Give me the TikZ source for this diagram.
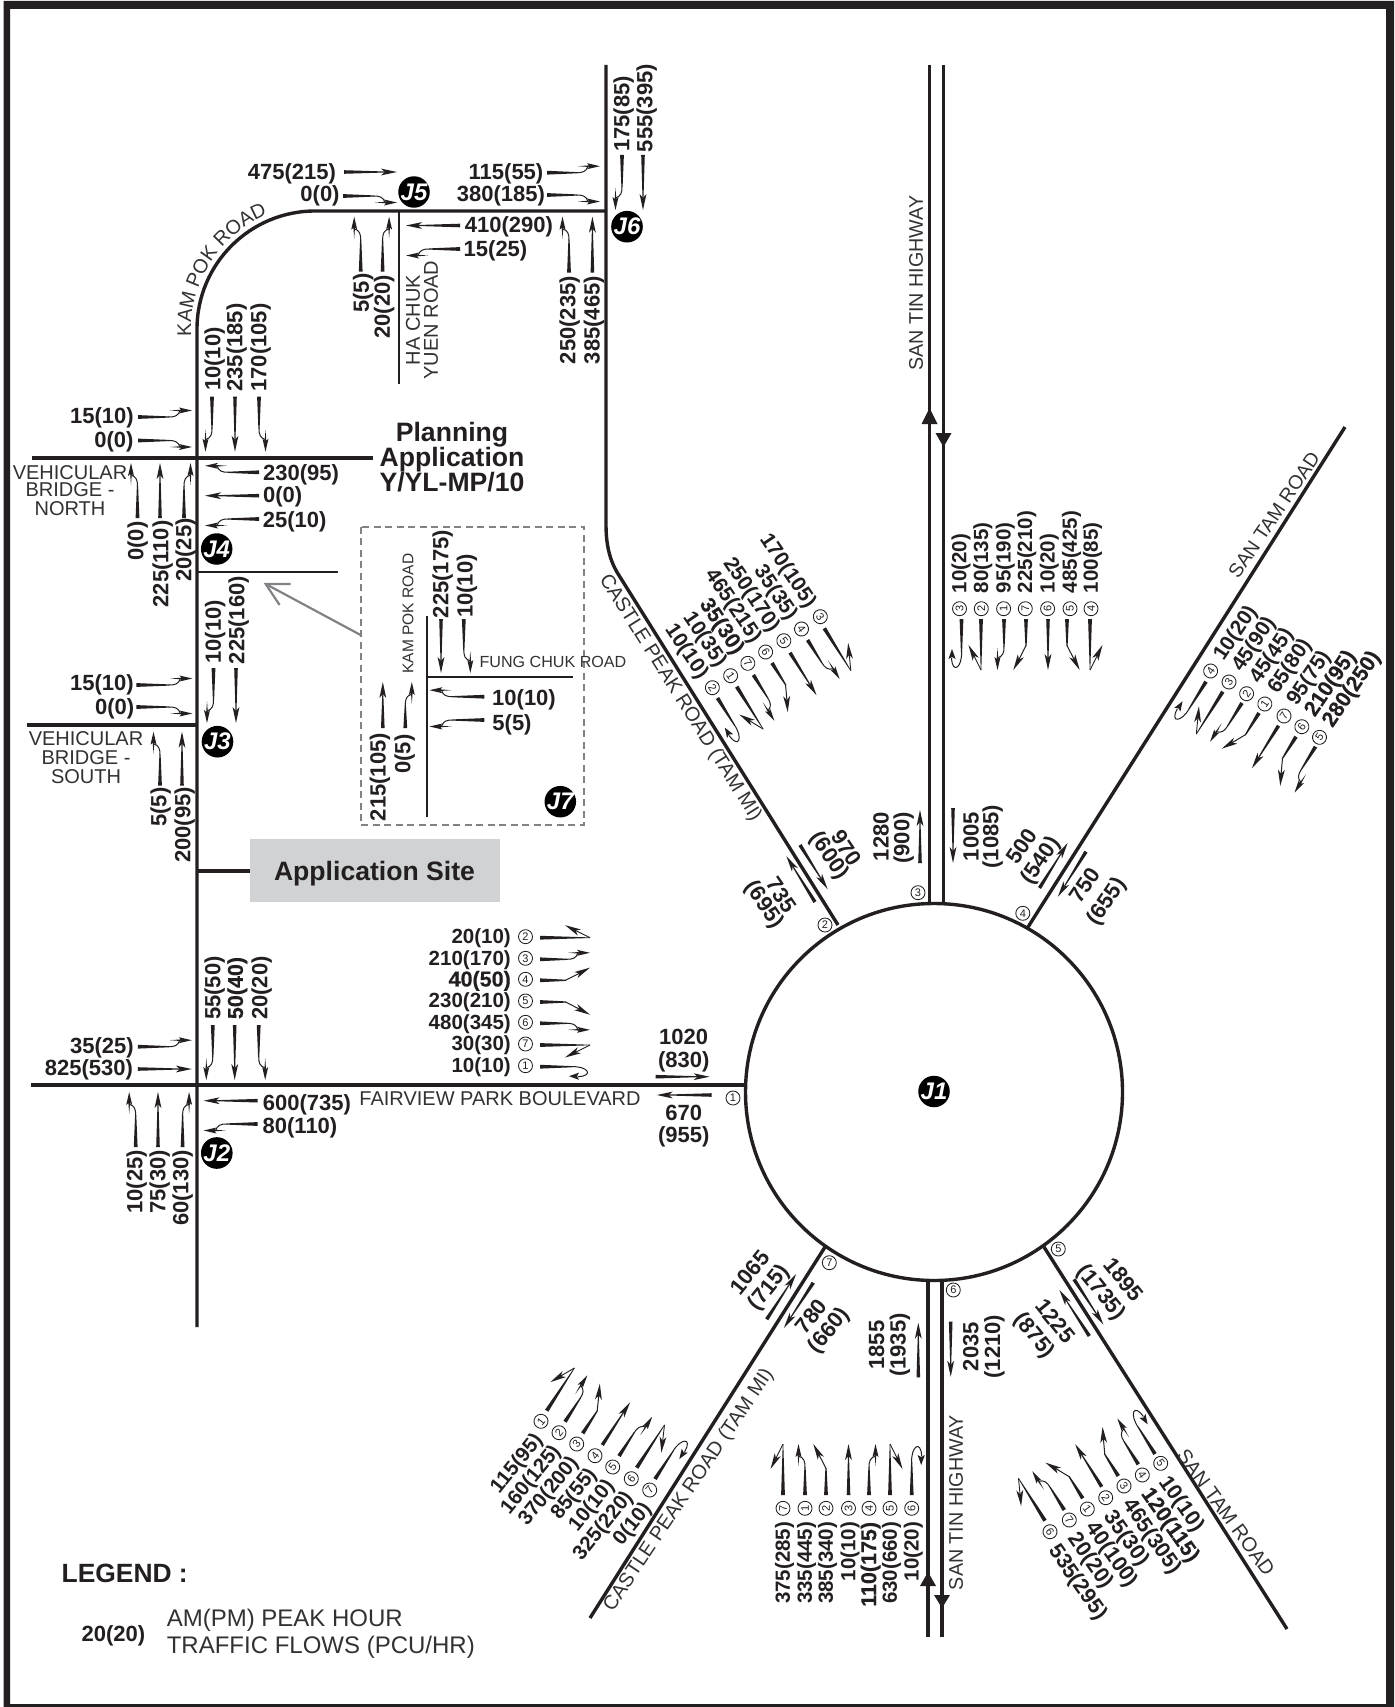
\documentclass[tikz,border=0pt]{standalone}
\usepackage{fontspec}
\setmainfont{Liberation Sans}
\newfontfamily\hv[FakeBold=0.4]{Liberation Sans Bold}
\usetikzlibrary{decorations.text}
\definecolor{ink}{HTML}{231F20}
\definecolor{rdc}{HTML}{333132}
\definecolor{dashc}{HTML}{808285}
\definecolor{sitec}{RGB}{208,210,212}
\newcounter{nn}
\newcommand\rdfont{\fontsize{19.8}{19.8}\selectfont}
\newcommand\hvt[1]{{\hv\fontsize{21.5}{21.5}\selectfont #1}}
\tikzset{
  road/.style={draw=ink,line width=3.4pt},
  thinroad/.style={draw=ink,line width=2.8pt},
  ln/.style={draw=ink,line width=1pt},
  num/.style={font=\bfseries\fontsize{22}{22}\selectfont,inner sep=0pt,text=ink},
  bigt/.style={font=\bfseries\fontsize{26.6}{26.6}\selectfont},
  fana/.style={font=\bfseries\fontsize{20.5}{20.5}\selectfont},
  fanb/.style={font=\bfseries\fontsize{21}{21}\selectfont},
  fanc/.style={font=\bfseries\fontsize{21.5}{21.5}\selectfont},
  rd/.style={font=\fontsize{20}{20}\selectfont,inner sep=0pt,text=rdc},
  cnum/.style={circle,draw=ink,line width=.85pt,minimum size=14pt,inner sep=0pt,font=\fontsize{11}{11}\selectfont,text=ink},
  jb/.style={circle,fill=black,minimum size=28pt,inner sep=0pt,text=white,font=\bfseries\itshape\fontsize{24}{24}\selectfont},
}
\newcommand\lab[5][]{\stepcounter{nn}\node[num,rotate=#4,yshift=-1.6pt,#1] (L\thenn) at (#2,#3) {#5};}
\newcommand\labd[5][]{\stepcounter{nn}\node[num,rotate=#4,#1] (L\thenn) at (#2,#3) {#5};}
\newcommand\rdl[5][]{\stepcounter{nn}\node[rd,rotate=#4,#1] (L\thenn) at (#2,#3) {#5};}
\newcommand\cn[4]{\stepcounter{nn}\node[cnum,rotate=#3] (L\thenn) at (#1,#2) {#4};}
\newcommand\hd[3]{\begin{scope}[shift={(#1,#2)},rotate=#3]\fill[ink] (0,0)--(-16,3.4)--(-12,0)--(-16,-3.4)--cycle;\end{scope}}
\newcommand\hk[3]{\begin{scope}[shift={(#1,#2)},rotate=#3]\fill[ink] (0,0)--(-13,3)--(-11,.8)--(-22,0)--(-11,-.8)--(-13,-3)--cycle;\end{scope}}
\newcommand\hs[3]{\begin{scope}[shift={(#1,#2)},rotate=#3]\fill[ink] (0,0)--(-10,3.6)--(-8,0)--(-10,-3.6)--cycle;\end{scope}}
\newcommand\arrS[1]{\fill[ink] (0,-1.8)--(#1-12,-.5)--(#1-12,.5)--(0,1.8)--cycle; \hd{#1}{0}{0}}
\newcommand\arrJL[1]{\fill[ink] (0,-1.9)--(#1-23,-.6)--(#1-23,.6)--(0,1.9)--cycle;
  \draw[ln] (#1-23.5,0) .. controls (#1-17,0) and (#1-14,-1) .. (#1-12,-6.5); \hk{#1}{-6.5}{0}}
\newcommand\arrJR[1]{\begin{scope}[yscale=-1]\arrJL{#1}\end{scope}}
\newcommand\arrKL[1]{\fill[ink] (0,-1.9)--(#1-24,-.6)--(#1-24,.6)--(0,1.9)--cycle;
  \draw[ln] (#1-24.5,0)--(#1-9.7,-7.5); \hd{#1}{-12.7}{28}}
\newcommand\arrKR[1]{\begin{scope}[yscale=-1]\arrKL{#1}\end{scope}}
\newcommand\arrBL[1]{\fill[ink] (0,-1.9)--(#1,-.3)--(#1,.3)--(0,1.9)--cycle;
  \draw[ln,line width=.9pt] (#1,0)--(#1-14,-7); \hd{#1-25}{-12.5}{153}}
\newcommand\arrBR[1]{\begin{scope}[yscale=-1]\arrBL{#1}\end{scope}}
\newcommand\arrUR[1]{\fill[ink] (0,-1.9)--(#1-18,-.6)--(#1-18,.6)--(0,1.9)--cycle;
  \draw[ln] (#1-18.5,0) .. controls (#1-3,-1) and (#1+5,9) .. (#1-12,10); \hs{#1-21}{9.5}{180}}
\newcommand\arr[5]{\begin{scope}[shift={(#2,#3)},rotate=#4]\csname arr#1\endcsname{#5}\end{scope}}
\begin{document}
\begin{tikzpicture}[x=1pt,y=-1pt]
\useasboundingbox (0,0) rectangle (1394,1707);
\fill[white] (0,0) rectangle (1394,1707);
\fill[ink,even odd rule] (3.5,1) rectangle (1394,1707) (10,9) rectangle (1386,1704);

% roads
\draw[road] (197,1327) -- (197,329) .. controls (197,264) and (250,211) .. (315,211) -- (606,211);
\draw[road] (606,65) -- (606,525) .. controls (606,550) and (612,565) .. (620,577) -- (838,925);
\draw[thinroad] (399,211) -- (399,384);
\draw[road] (32,458) -- (373,458);
\draw[thinroad] (197,572) -- (338,572);
\draw[road] (26.5,725) -- (197,725);
\draw[road] (197,871) -- (250,871);
\draw[road] (30.5,1085) -- (745,1085);
\draw[road] (934,1092) circle[radius=188.5];
\draw[road] (929.5,65) -- (929.5,904);
\draw[road] (943.5,65) -- (943.5,904);
\draw[road] (928,1280) -- (928,1637);
\draw[road] (942,1280) -- (942,1637);
\draw[road] (1028,927) -- (1345,427);
\draw[road] (1044,1247) -- (1287,1629);
\draw[road] (825,1247) -- (590,1618);
\fill[ink] (929.5,408) -- (921.5,424) -- (937.5,424) -- cycle;
\fill[ink] (943.5,447) -- (935.5,433) -- (951.5,433) -- cycle;
\fill[ink] (928,1572) -- (920,1586) -- (936,1586) -- cycle;
\fill[ink] (942,1608) -- (934,1595) -- (950,1595) -- cycle;

% application site
\fill[sitec] (250,839) rectangle (500,902);
\node[num,bigt] (appsite) at (374.5,873.5) {Application Site};

% planning application
\node[num,bigt,anchor=base] (pa1) at (452,441.7) {Planning};
\node[num,bigt,anchor=base] (pa2) at (452,466.7) {Application};
\node[num,bigt,anchor=base] (pa3) at (452,491.7) {Y/YL-MP/10};

% inset
\draw[dashc,line width=2pt,dash pattern=on 7pt off 4.5pt] (360.6,526.7) rectangle (584,825);
\coordinate (ga1) at (360.6,635); \coordinate (ga2) at (265.7,584);
\coordinate (ga3) at (290.6,584); \coordinate (ga4) at (279.6,605);
\draw[dashc,line width=2.2pt] (ga1) -- (ga2);
\draw[dashc,line width=2.2pt] (ga3) -- (ga2) -- (ga4);
\draw[thinroad] (427,616) -- (427,817);
\draw[thinroad] (427,677) -- (573,677);
\rdl[font=\fontsize{15.5}{15.5}\selectfont]{408}{613.5}{90}{KAM POK ROAD}
\rdl[font=\fontsize{16.1}{16.1}\selectfont]{553}{661.7}{0}{FUNG CHUK ROAD}
\lab{441}{574}{90}{225(175)}
\lab{465.4}{586}{90}{10(10)}
\arr{S}{441}{619}{-90}{54}
\arr{JL}{463.8}{619}{-90}{54}
\lab{524}{698}{0}{10(10)}
\lab{512}{723}{0}{5(5)}
\arr{JR}{484.4}{696.7}{180}{55}
\arr{JL}{484.4}{720}{180}{55}
\lab{378.4}{777}{90}{215(105)}
\lab{403}{754}{90}{0(5)}
\arr{S}{382.8}{728}{90}{46}
\arr{JR}{405.3}{728}{90}{46}
\node[jb] (J7) at (560.3,801.7) {J7};

% J5
\lab{292}{172}{0}{475(215)}
\arr{S}{344}{172}{0}{53}
\lab{320}{194}{0}{0(0)}
\arr{JR}{343}{196}{0}{54}
\node[jb] (J5) at (414,192) {J5};
\lab{506}{172}{0}{115(55)}
\arr{JL}{547}{172.7}{0}{53}
\lab{501}{194}{0}{380(185)}
\arr{JR}{547}{195}{0}{53}
\lab{509}{225.7}{0}{410(290)}
\arr{S}{460}{225.5}{180}{54}
\lab{495.5}{249}{0}{15(25)}
\arr{JL}{460}{249}{180}{54}
\rdl{413}{320}{90}{HA CHUK}
\rdl{431}{320}{90}{YUEN ROAD}
\lab{361.6}{293}{90}{5(5)}
\arr{JL}{360.7}{271.7}{90}{55}
\lab{382.6}{306.7}{90}{20(20)}
\arr{JR}{382.6}{271.7}{90}{55}

% J6
\lab{568}{320}{90}{250(235)}
\arr{JL}{569}{272.7}{90}{56}
\lab{592.4}{320}{90}{385(465)}
\arr{S}{592.4}{272.7}{90}{56}
\node[jb] (J6) at (627,226.7) {J6};
\lab{622}{114}{90}{175(85)}
\lab{645}{108}{90}{555(395)}
\arr{JR}{622}{155}{-90}{55}
\arr{S}{643}{155}{-90}{55}

% road label on the curve
\path[decorate,decoration={text along path,text={|\rdfont\color{rdc}|KAM POK ROAD},text align={left}}]
  (191,336) -- (191,329) .. controls (191,261) and (247,205) .. (315,205);

% J4
\lab{213}{359}{90}{10(10)}
\lab{235}{347.5}{90}{235(185)}
\lab{259}{347.5}{90}{170(105)}
\arr{JR}{212}{396.7}{-90}{55}
\arr{S}{235}{396.7}{-90}{55}
\arr{JL}{259}{396.7}{-90}{55}
\lab{102}{416}{0}{15(10)}
\arr{JL}{138}{417}{0}{54}
\lab{114}{440}{0}{0(0)}
\arr{JR}{138}{440.5}{0}{54}
\lab{301}{473}{0}{230(95)}
\arr{JR}{259}{472.3}{180}{54}
\lab{282.6}{495.7}{0}{0(0)}
\arr{S}{259}{495.7}{180}{54}
\lab{294.6}{520.7}{0}{25(10)}
\arr{JL}{259}{519}{180}{54}
\rdl{70}{472.7}{0}{VEHICULAR}
\rdl{70}{490}{0}{BRIDGE -}
\rdl{70}{509}{0}{NORTH}
\lab{136}{541}{90}{0(0)}
\lab{161}{564}{90}{225(110)}
\lab{184}{550}{90}{20(25)}
\arr{JL}{137.5}{518}{90}{55}
\arr{S}{160}{518}{90}{55}
\arr{JR}{184}{518}{90}{55}
\node[jb] (J4) at (216.7,549) {J4};

% J3
\lab{213.5}{631.7}{90}{10(10)}
\lab{237}{620}{90}{225(160)}
\arr{JR}{213.5}{668}{-90}{55}
\arr{S}{236}{668}{-90}{55}
\lab{102}{683}{0}{15(10)}
\arr{JL}{136.4}{685}{0}{56}
\lab{114.7}{707.7}{0}{0(0)}
\arr{JR}{136.4}{707}{0}{56}
\rdl{86}{739}{0}{VEHICULAR}
\rdl{86}{758}{0}{BRIDGE -}
\rdl{86}{777}{0}{SOUTH}
\lab{159}{807}{90}{5(5)}
\lab{183}{825}{90}{200(95)}
\arr{JL}{160}{785.7}{90}{54}
\arr{S}{182}{785.7}{90}{54}
\node[jb] (J3) at (217.5,741.7) {J3};

% J2
\lab{213}{988}{90}{55(50)}
\lab{235.7}{988}{90}{\hvt{50(40)}}
\lab{260}{988}{90}{20(20)}
\arr{JR}{212.8}{1025}{-90}{55}
\arr{S}{234.7}{1025}{-90}{55}
\arr{JL}{258.7}{1025}{-90}{55}
\lab{102}{1046}{0}{35(25)}
\arr{JL}{137.8}{1046.7}{0}{54}
\lab{89}{1068}{0}{825(530)}
\arr{S}{137.8}{1069}{0}{54}
\lab{307}{1102.7}{0}{600(735)}
\arr{S}{257.6}{1100.7}{180}{54}
\lab{300}{1126}{0}{80(110)}
\arr{JL}{257.6}{1124}{180}{54}
\node[jb] (J2) at (216.8,1153) {J2};
\lab{135}{1181.7}{90}{10(25)}
\lab{158}{1181.7}{90}{75(30)}
\lab{181}{1188}{90}{60(130)}
\arr{JL}{135.7}{1147}{90}{55}
\arr{S}{158}{1147}{90}{55}
\arr{JR}{182.6}{1147}{90}{55}
\rdl{500}{1099}{0}{FAIRVIEW PARK BOULEVARD}

% west arm (arm 1)
\labd{683.7}{1036.7}{0}{1020}
\lab{683.7}{1060}{0}{(830)}
\arr{S}{655.6}{1076.7}{0}{54}
\arr{S}{711.7}{1095}{180}{55}
\labd{683.7}{1112.7}{0}{670}
\lab{683.7}{1135}{0}{(955)}
\cn{733}{1098}{0}{1}
\foreach \yy/\n/\t/\k in {936.7/2/20(10)/BL,958.3/3/210(170)/JL,979.3/4/\hvt{40(50)}/KL,1001/5/230(210)/KR,1022.3/6/480(345)/JR,1044/7/30(30)/BR,1065.7/1/10(10)/UR}{
  \lab[anchor=east,fana]{511}{\yy}{0}{\t}
  \cn{525.5}{\yy}{0}{\n}
  \arr{\k}{540}{\yy+1}{0}{50}
}

% north arm fan
\foreach \xx/\ax/\n/\t/\k in {959.5/961.5/3/10(20)/UR,981.3/981/2/80(135)/BR,1003.6/1004/1/95(190)/JR,1025.3/1026/7/225(210)/KR,1047.6/1048/6/10(20)/S,1070/1067/5/485(425)/KL,1091/1090/4/100(85)/BL}{
  \lab[anchor=west,fana]{\xx}{593.3}{90}{\t}
  \cn{\xx}{608.7}{90}{\n}
  \arr{\k}{\ax}{619}{-90}{51}
}
% north-west arm fan
\foreach \cx/\cy/\ax/\ay/\n/\t/\k in {820.3/616.7/824.3/628.3/3/170(105)/BL,801.5/629/807.6/640/4/35(35)/JL,783.8/640.7/790/652.7/5/250(170)/S,765.6/652/772/663/6/465(215)/KR,747.8/663.3/753.4/675/7/\hvt{35(30)}/JR,730.6/675.7/736.7/686.7/1/10(35)/BR,712.4/687.7/717.5/698/2/10(10)/UR}{
  \lab[anchor=east,fanb]{\cx-8}{\cy-11.6}{-56}{\t}
  \cn{\cx}{\cy}{-56}{\n}
  \arr{\k}{\ax}{\ay}{-58}{50}
}
% north-east arm fan
\foreach \cx/\cy/\ax/\ay/\n/\t/\k in {1210.6/671/1206/681.7/4/10(20)/UR,1229/682/1222.8/691.7/3/45(90)/BR,1246.6/693.7/1242/703/2/45(45)/JR,1264.8/704/1259/713/1/65(80)/KR,1284/716/1278.5/725.7/7/95(75)/S,1301.8/726.7/1296/736.7/6/\hvt{210(95)}/KL,1319.5/737.3/1315.5/746.7/5/\hvt{280(250)}/JL}{
  \lab[anchor=west,fanb]{\cx+7}{\cy-13}{56}{\t}
  \cn{\cx}{\cy}{56}{\n}
  \arr{\k}{\ax}{\ay}{-122}{50}
}
% south-west arm fan
\foreach \cx/\cy/\ax/\ay/\n/\t/\k in {541/1421.3/546.7/1410.7/1/115(95)/BL,559/1432.7/565/1421.7/2/160(125)/JL,576.7/1444/582.7/1433.3/3/370(200)/KL,595/1455.7/602.3/1445/4/85(55)/S,612.7/1467/619/1456/5/10(10)/JR,631.3/1478.7/636.7/1467.7/6/325(220)/BR,649.7/1490/655/1479/7/0(10)/UR}{
  \lab[anchor=east,fana]{\cx-3}{\cy+14.5}{51}{\t}
  \cn{\cx}{\cy}{51}{\n}
  \arr{\k}{\ax}{\ay}{57}{51}
}
% south arm fan
\foreach \xx/\n/\t/\k in {783/7/375(285)/BL,805/1/335(445)/JL,826/2/385(340)/KL,848.5/3/10(10)/S,869/4/\hvt{110(175)}/JR,890/5/630(660)/BR,911.7/6/10(20)/UR}{
  \lab[anchor=east,fana]{\xx}{1521.7}{90}{\t}
  \cn{\xx}{1508.3}{90}{\n}
  \arr{\k}{\xx}{1495}{90}{51}
}
% south-east arm fan
\foreach \cx/\cy/\ax/\ay/\n/\t/\k in {1050/1531.7/1045/1520.7/6/535(295)/BL,1069.3/1520/1064.3/1510/7/20(20)/JL,1087.3/1509/1082.7/1498.3/1/40(100)/KL,1105.7/1497.7/1101.7/1486.7/2/35(30)/S,1124/1486/1118.3/1476/3/465(305)/KR,1142.3/1475/1138.3/1464.3/4/\hvt{120(115)}/JR,1160.7/1463.3/1155/1454/5/10(10)/UR}{
  \lab[anchor=west,fanc]{\cx+4}{\cy+14.5}{-55}{\t}
  \cn{\cx}{\cy}{-55}{\n}
  \arr{\k}{\ax}{\ay}{122}{50}
}

% arm totals and numbers
\labd{881}{836.7}{90}{1280}
\lab{902}{838}{90}{(900)}
\arr{S}{920}{863}{90}{53}
\labd{971}{836.7}{90}{1005}
\lab{991}{836.7}{90}{(1085)}
\arr{S}{953}{808}{-90}{55}
\cn{918}{892.7}{0}{3}
\lab{848}{847}{-56}{970}
\lab{830}{855}{-56}{(600)}
\arr{S}{800}{845}{-58}{52}
\lab{783}{894}{-56}{735}
\lab{765}{904}{-56}{(695)}
\arr{S}{815}{902}{122}{54}
\cn{825}{925}{0}{2}
\lab{1020}{845}{56}{500}
\lab{1040}{860}{56}{(540)}
\arr{S}{1039.5}{888}{58}{53}
\lab{1083.5}{884}{56}{750}
\lab{1106}{901}{56}{(655)}
\arr{S}{1086}{851.7}{-122}{53}
\cn{1022.8}{913.3}{0}{4}
\lab{748.3}{1271.7}{51}{1065}
\lab{768.3}{1286.7}{51}{(715)}
\arr{S}{766.7}{1319.3}{57}{54}
\lab{810}{1315}{51}{780}
\lab{828.3}{1330}{51}{(660)}
\arr{S}{813.3}{1282.7}{-123}{54}
\cn{829.3}{1262.7}{0}{7}
\lab{875}{1345}{90}{1855}
\lab{898.3}{1345}{90}{(1935)}
\arr{S}{918.3}{1377.3}{90}{54.6}
\lab{969.3}{1346.7}{90}{2035}
\lab{992.7}{1346.7}{90}{(1210)}
\arr{S}{950.7}{1321.7}{-90}{55}
\cn{953.3}{1290}{0}{6}
\lab{1125}{1278.3}{-51}{1895}
\lab{1101.7}{1291.7}{-51}{(1735)}
\arr{S}{1074}{1279.3}{-57}{54}
\lab{1056.7}{1320}{-51}{1225}
\lab{1035}{1335}{-51}{(875)}
\arr{S}{1089.3}{1336}{123}{55}
\cn{1058.3}{1249}{0}{5}
\node[jb] (J1) at (934,1091.5) {J1};

% road names
\rdl[font=\fontsize{19.7}{19.7}\selectfont]{916}{283}{90}{SAN TIN HIGHWAY}
\rdl[font=\fontsize{19.7}{19.7}\selectfont]{956}{1502.5}{90}{SAN TIN HIGHWAY}
\rdl{680}{698}{-57.8}{CASTLE PEAK ROAD (TAM MI)}
\rdl{689}{1490}{56}{CASTLE PEAK ROAD (TAM MI)}
\rdl[font=\fontsize{19.5}{19.5}\selectfont]{1274}{515}{56}{SAN TAM ROAD}
\rdl{1226}{1512.5}{-54}{SAN TAM ROAD}

% legend
\node[num,font=\bfseries\fontsize{26.4}{26.4}\selectfont] (lg1) at (124.7,1573.5) {LEGEND :};
\lab{113.5}{1634}{0}{20(20)}
\rdl[anchor=west,font=\fontsize{24}{24}\selectfont]{166.6}{1620}{0}{AM(PM) PEAK HOUR}
\rdl[anchor=west,font=\fontsize{24}{24}\selectfont]{166.6}{1647.6}{0}{TRAFFIC FLOWS (PCU/HR)}
\end{tikzpicture}
\end{document}
